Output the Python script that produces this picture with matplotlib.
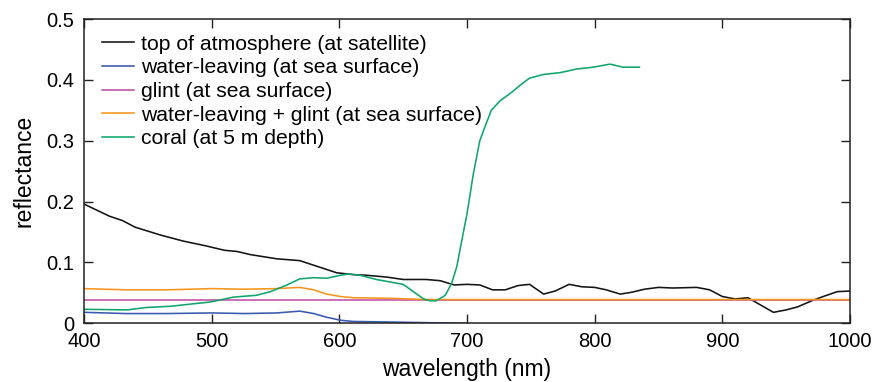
import matplotlib.pyplot as plt
from matplotlib.ticker import FuncFormatter

plt.rcParams['font.family'] = ['Liberation Sans', 'DejaVu Sans']

# top of atmosphere (at satellite)
toa_wl = [400, 420, 430, 440, 460, 478, 496, 510, 520, 530, 551, 569, 582, 598,
          611, 621, 637, 650, 668, 679, 690, 700, 710, 720, 730, 740, 749, 760,
          769, 780, 790, 800, 809, 820, 829, 839, 850, 861, 880, 890, 900, 910,
          920, 940, 950, 959, 970, 979, 990, 1000]
toa_r = [0.196, 0.176, 0.169, 0.158, 0.145, 0.135, 0.127, 0.120, 0.118, 0.113,
         0.106, 0.103, 0.094, 0.083, 0.080, 0.079, 0.076, 0.072, 0.072, 0.070,
         0.063, 0.064, 0.063, 0.055, 0.055, 0.062, 0.064, 0.048, 0.053, 0.064,
         0.060, 0.059, 0.055, 0.048, 0.051, 0.056, 0.059, 0.058, 0.059, 0.055,
         0.044, 0.040, 0.042, 0.018, 0.022, 0.027, 0.037, 0.044, 0.052, 0.053]

# water-leaving (at sea surface)
wl_wl = [400, 433, 465, 500, 526, 551, 569, 580, 590, 601, 611, 642, 668, 700]
wl_r = [0.018, 0.016, 0.016, 0.017, 0.016, 0.017, 0.020, 0.016, 0.010, 0.005,
        0.003, 0.002, 0.001, 0.0]

# glint (at sea surface)
gl_wl = [400, 1000]
gl_r = [0.039, 0.039]

# water-leaving + glint (at sea surface)
wg_wl = [400, 433, 465, 500, 526, 551, 569, 580, 590, 601, 611, 642, 668, 700, 1000]
wg_r = [0.057, 0.055, 0.055, 0.057, 0.056, 0.057, 0.059, 0.055, 0.048, 0.044,
        0.042, 0.041, 0.039, 0.039, 0.039]

# coral (at 5 m depth)
co_wl = [400, 434, 449, 468, 481, 499, 517, 535, 546, 559, 569, 580, 590, 601,
         607, 616, 629, 642, 650, 658, 666, 671, 676, 683, 688, 692, 696, 700,
         705, 710, 713, 719, 726, 734, 742, 749, 760, 773, 786, 799, 812, 822, 835]
co_r = [0.023, 0.022, 0.026, 0.028, 0.031, 0.035, 0.043, 0.046, 0.052, 0.063,
        0.073, 0.075, 0.074, 0.079, 0.081, 0.079, 0.072, 0.067, 0.064, 0.052,
        0.040, 0.037, 0.037, 0.046, 0.066, 0.093, 0.137, 0.180, 0.246, 0.300,
        0.317, 0.350, 0.366, 0.378, 0.392, 0.403, 0.409, 0.412, 0.418, 0.421,
        0.426, 0.421, 0.421]

fig = plt.figure(figsize=(8.72, 3.82), dpi=100)
ax = fig.add_axes([0.0963, 0.1537, 0.8785, 0.7963])

lw = 1.15
ax.plot(toa_wl, toa_r, color='#141414', lw=lw, label='top of atmosphere (at satellite)')
ax.plot(wl_wl, wl_r, color='#3a59b0', lw=lw, label='water-leaving (at sea surface)')
ax.plot(gl_wl, gl_r, color='#c050a5', lw=lw, label='glint (at sea surface)')
ax.plot(wg_wl, wg_r, color='#f7941d', lw=lw, label='water-leaving + glint (at sea surface)')
ax.plot(co_wl, co_r, color='#10a56c', lw=lw, label='coral (at 5 m depth)')

ax.set_xlim(400, 1000)
ax.set_ylim(0, 0.5)
ax.set_xticks([400, 500, 600, 700, 800, 900, 1000])
ax.set_yticks([0, 0.1, 0.2, 0.3, 0.4, 0.5])
ax.yaxis.set_major_formatter(FuncFormatter(lambda v, p: '0' if v == 0 else f'{v:.1f}'))
ax.tick_params(direction='in', top=True, right=True, length=6.5, width=1.0,
               labelsize=14.5, color='#222222')
ax.tick_params(axis='x', pad=6)
ax.tick_params(axis='y', pad=7)
for s in ax.spines.values():
    s.set_linewidth(1.1)
    s.set_color('#222222')

ax.set_xlabel('wavelength (nm)', fontsize=16.5, labelpad=5.5)
ax.set_ylabel('reflectance', fontsize=16.5, labelpad=8)

ax.legend(loc='upper left', frameon=False, fontsize=15.2, handlelength=1.55,
          handletextpad=0.3, labelspacing=0.22, borderaxespad=0.0, borderpad=0.0,
          bbox_to_anchor=(0.023, 0.949))

fig.savefig('out.png', dpi=100)
